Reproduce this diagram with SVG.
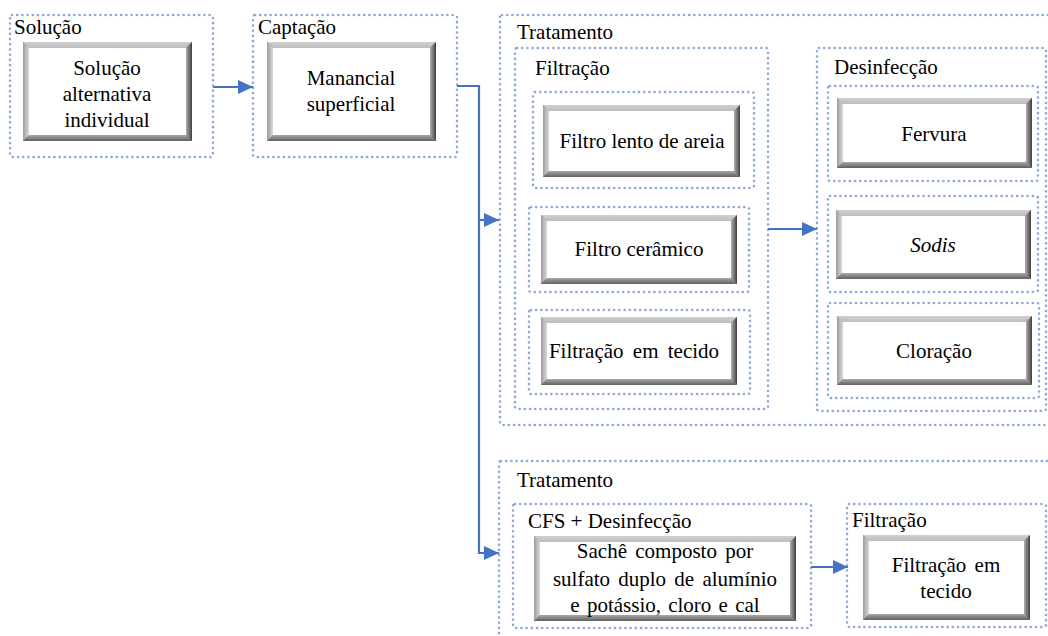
<svg xmlns="http://www.w3.org/2000/svg" width="1048" height="636" viewBox="0 0 1048 636">
<style>
.dot{fill:none;stroke:#8aa6da;stroke-width:2.6;stroke-dasharray:0 5.2;stroke-linecap:round}
.t{font-family:"Liberation Serif","DejaVu Serif","Times New Roman",serif;font-size:21px;fill:#000}
.c{text-anchor:middle}
.t1{fill:url(#gT)}.l1{fill:url(#gL)}.r1{fill:url(#gR)}.b1{fill:url(#gB)}
.in{fill:#fff}
.ol{fill:#8c8c8c}
.con{fill:none;stroke:#4472c4;stroke-width:2.2}
</style>
<defs>
<linearGradient id="gT" x1="0" y1="0" x2="0" y2="1"><stop offset="0" stop-color="#cfcfcf"/><stop offset="1" stop-color="#bdbdbd"/></linearGradient>
<linearGradient id="gL" x1="0" y1="0" x2="1" y2="0"><stop offset="0" stop-color="#9c9c9c"/><stop offset="1" stop-color="#d9d9d9"/></linearGradient>
<linearGradient id="gR" x1="0" y1="0" x2="1" y2="0"><stop offset="0" stop-color="#b0b0b0"/><stop offset="1" stop-color="#404040"/></linearGradient>
<linearGradient id="gB" x1="0" y1="0" x2="0" y2="1"><stop offset="0" stop-color="#a8a8a8"/><stop offset="1" stop-color="#606060"/></linearGradient>
<marker id="ah" markerUnits="userSpaceOnUse" markerWidth="16" markerHeight="14" refX="15" refY="7" orient="auto"><path d="M0,0 L15,7 L0,14 Z" fill="#4472c4"/></marker>
</defs>

<g id="solucao">
<rect class="dot" x="10" y="15" width="203" height="142" rx="2"/>
<text class="t" x="14" y="34">Solução</text>
<rect class="ol" x="23" y="42" width="169" height="99"/>
<polygon class="t1" points="23,42 192,42 186,48 29,48"/>
<polygon class="l1" points="23,42 29,48 29,135 23,141"/>
<polygon class="r1" points="192,42 192,141 186,135 186,48"/>
<polygon class="b1" points="23,141 192,141 186,135 29,135"/>
<rect class="in" x="29" y="48" width="157" height="87"/>
<text class="t c" x="107" y="75">Solução</text>
<text class="t c" x="107" y="101">alternativa</text>
<text class="t c" x="107" y="127">individual</text>
</g>

<g id="captacao">
<rect class="dot" x="253" y="15" width="204" height="142" rx="2"/>
<text class="t" x="258" y="34">Captação</text>
<rect class="ol" x="267" y="42" width="169" height="99"/>
<polygon class="t1" points="267,42 436,42 430,48 273,48"/>
<polygon class="l1" points="267,42 273,48 273,135 267,141"/>
<polygon class="r1" points="436,42 436,141 430,135 430,48"/>
<polygon class="b1" points="267,141 436,141 430,135 273,135"/>
<rect class="in" x="273" y="48" width="157" height="87"/>
<text class="t c" x="351" y="85">Manancial</text>
<text class="t c" x="351" y="111">superficial</text>
</g>

<g id="tratamento1">
<rect class="dot" x="500" y="15" width="566" height="410" rx="2"/>
<text class="t" x="517" y="39">Tratamento</text>
</g>

<g id="filtracao1">
<rect class="dot" x="515" y="48" width="253" height="361" rx="2"/>
<text class="t" x="535" y="75">Filtração</text>
</g>

<g id="filtro-lento">
<rect class="dot" x="533" y="92" width="221" height="96" rx="2"/>
<rect class="ol" x="543" y="105" width="197" height="72"/>
<polygon class="t1" points="543,105 740,105 734,111 549,111"/>
<polygon class="l1" points="543,105 549,111 549,171 543,177"/>
<polygon class="r1" points="740,105 740,177 734,171 734,111"/>
<polygon class="b1" points="543,177 740,177 734,171 549,171"/>
<rect class="in" x="549" y="111" width="185" height="60"/>
<text class="t c" x="642" y="148">Filtro lento de areia</text>
</g>

<g id="filtro-ceramico">
<rect class="dot" x="529" y="207" width="220" height="85" rx="2"/>
<rect class="ol" x="541" y="215" width="196" height="69"/>
<polygon class="t1" points="541,215 737,215 731,221 547,221"/>
<polygon class="l1" points="541,215 547,221 547,278 541,284"/>
<polygon class="r1" points="737,215 737,284 731,278 731,221"/>
<polygon class="b1" points="541,284 737,284 731,278 547,278"/>
<rect class="in" x="547" y="221" width="184" height="57"/>
<text class="t c" x="639" y="256">Filtro cerâmico</text>
</g>

<g id="filtracao-tecido1">
<rect class="dot" x="529" y="310" width="221" height="84" rx="2"/>
<rect class="ol" x="541" y="317" width="196" height="68"/>
<polygon class="t1" points="541,317 737,317 731,323 547,323"/>
<polygon class="l1" points="541,317 547,323 547,379 541,385"/>
<polygon class="r1" points="737,317 737,385 731,379 731,323"/>
<polygon class="b1" points="541,385 737,385 731,379 547,379"/>
<rect class="in" x="547" y="323" width="184" height="56"/>
<text class="t c" x="634" y="358" word-spacing="4">Filtração em tecido</text>
</g>

<g id="desinfeccao">
<rect class="dot" x="817" y="48" width="229" height="363" rx="2"/>
<text class="t" x="834" y="74">Desinfecção</text>
</g>

<g id="fervura">
<rect class="dot" x="828" y="86" width="210" height="95" rx="2"/>
<rect class="ol" x="837" y="98" width="195" height="70"/>
<polygon class="t1" points="837,98 1032,98 1026,104 843,104"/>
<polygon class="l1" points="837,98 843,104 843,162 837,168"/>
<polygon class="r1" points="1032,98 1032,168 1026,162 1026,104"/>
<polygon class="b1" points="837,168 1032,168 1026,162 843,162"/>
<rect class="in" x="843" y="104" width="183" height="58"/>
<text class="t c" x="934" y="141">Fervura</text>
</g>

<g id="sodis">
<rect class="dot" x="828" y="196" width="210" height="96" rx="2"/>
<rect class="ol" x="836" y="210" width="195" height="69"/>
<polygon class="t1" points="836,210 1031,210 1025,216 842,216"/>
<polygon class="l1" points="836,210 842,216 842,273 836,279"/>
<polygon class="r1" points="1031,210 1031,279 1025,273 1025,216"/>
<polygon class="b1" points="836,279 1031,279 1025,273 842,273"/>
<rect class="in" x="842" y="216" width="183" height="57"/>
<text class="t c" x="933" y="252" font-style="italic">Sodis</text>
</g>

<g id="cloracao">
<rect class="dot" x="828" y="303" width="211" height="95" rx="2"/>
<rect class="ol" x="837" y="316" width="195" height="69"/>
<polygon class="t1" points="837,316 1032,316 1026,322 843,322"/>
<polygon class="l1" points="837,316 843,322 843,379 837,385"/>
<polygon class="r1" points="1032,316 1032,385 1026,379 1026,322"/>
<polygon class="b1" points="837,385 1032,385 1026,379 843,379"/>
<rect class="in" x="843" y="322" width="183" height="57"/>
<text class="t c" x="934" y="358">Cloração</text>
</g>

<g id="tratamento2">
<rect class="dot" x="499" y="461" width="567" height="190" rx="2"/>
<text class="t" x="517" y="487">Tratamento</text>
</g>

<g id="cfs">
<rect class="dot" x="513" y="504" width="298" height="124" rx="2"/>
<text class="t" x="528" y="528">CFS + Desinfecção</text>
<rect class="ol" x="534" y="536" width="262" height="85"/>
<polygon class="t1" points="534,536 796,536 790,542 540,542"/>
<polygon class="l1" points="534,536 540,542 540,615 534,621"/>
<polygon class="r1" points="796,536 796,621 790,615 790,542"/>
<polygon class="b1" points="534,621 796,621 790,615 540,615"/>
<rect class="in" x="540" y="542" width="250" height="73"/>
<text class="t c" x="665" y="558" word-spacing="3">Sachê composto por</text>
<text class="t c" x="665" y="586" word-spacing="3">sulfato duplo de alumínio</text>
<text class="t c" x="665" y="612" word-spacing="2">e potássio, cloro e cal</text>
</g>

<g id="filtracao2">
<rect class="dot" x="847" y="504" width="199" height="123" rx="2"/>
<text class="t" x="852" y="527">Filtração</text>
<rect class="ol" x="863" y="535" width="167" height="85"/>
<polygon class="t1" points="863,535 1030,535 1024,541 869,541"/>
<polygon class="l1" points="863,535 869,541 869,614 863,620"/>
<polygon class="r1" points="1030,535 1030,620 1024,614 1024,541"/>
<polygon class="b1" points="863,620 1030,620 1024,614 869,614"/>
<rect class="in" x="869" y="541" width="155" height="73"/>
<text class="t c" x="946" y="572" word-spacing="3">Filtração em</text>
<text class="t c" x="946" y="598">tecido</text>
</g>

<g id="connectors">
<path class="con" d="M213,87 H253" marker-end="url(#ah)"/>
<path class="con" d="M457,86 H479 V553 H499" marker-end="url(#ah)"/>
<path class="con" d="M479,220 H499" marker-end="url(#ah)"/>
<path class="con" d="M768,229 H817" marker-end="url(#ah)"/>
<path class="con" d="M811,567 H848" marker-end="url(#ah)"/>
</g>
</svg>
